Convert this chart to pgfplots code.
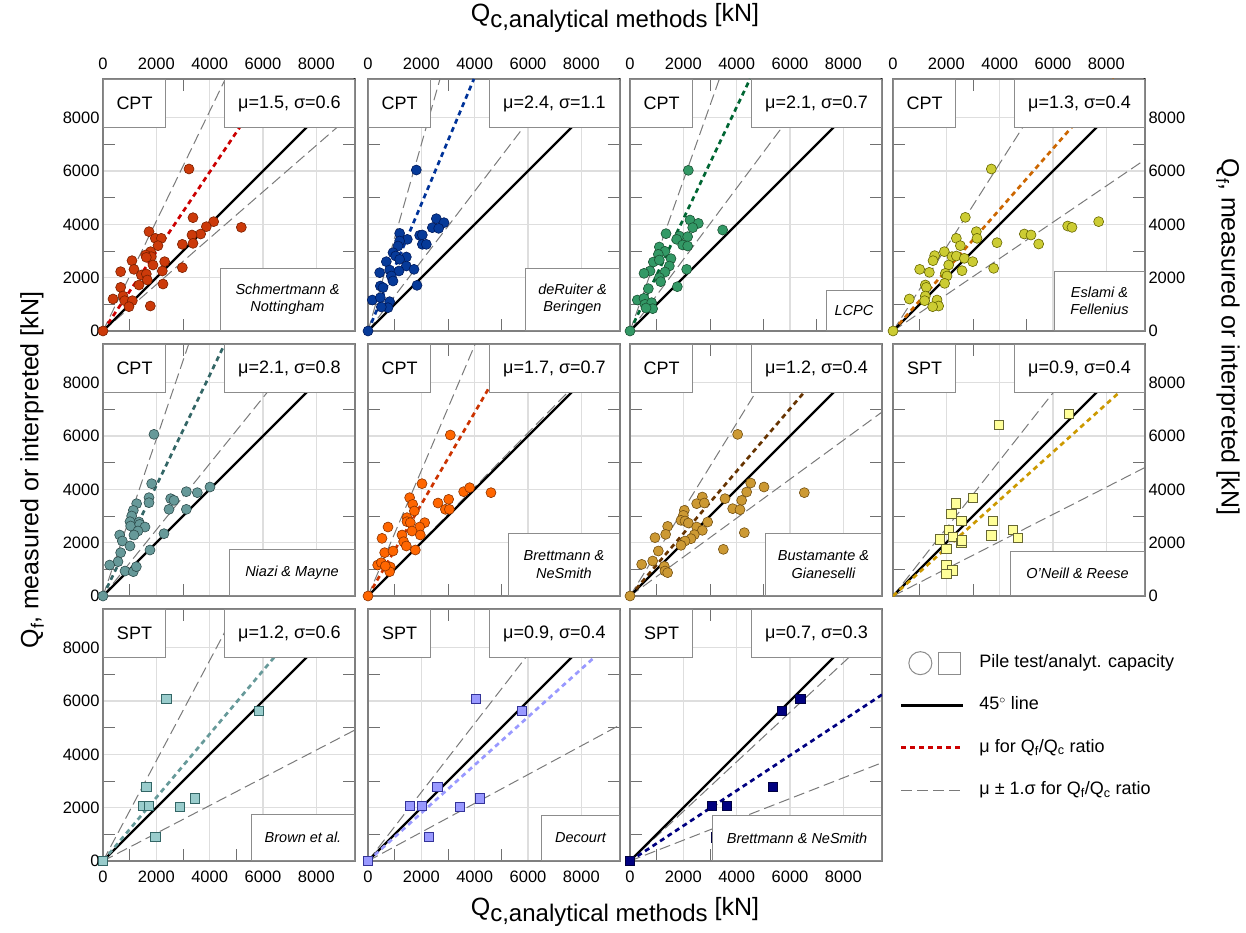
\documentclass[border=0pt]{standalone}
\usepackage{fontspec}
\setmainfont{Liberation Sans}
\usepackage{pgfplots}
\pgfplotsset{compat=1.18}

\definecolor{gridc}{HTML}{DEDEDE}
\definecolor{framec}{HTML}{7F7F7F}
\definecolor{tickc}{HTML}{707070}
\definecolor{boxc}{HTML}{8C8C8C}
\definecolor{dashc}{HTML}{7A7A7A}
\definecolor{f1}{HTML}{CC3A0A}\definecolor{e1}{HTML}{7A2000}\definecolor{m1}{HTML}{CC0000}
\definecolor{f2}{HTML}{063A99}\definecolor{e2}{HTML}{001A5C}\definecolor{m2}{HTML}{003399}
\definecolor{f3}{HTML}{339966}\definecolor{e3}{HTML}{1A5233}\definecolor{m3}{HTML}{006633}
\definecolor{f4}{HTML}{CCCC33}\definecolor{e4}{HTML}{666600}\definecolor{m4}{HTML}{CC6600}
\definecolor{f5}{HTML}{669999}\definecolor{e5}{HTML}{2E4D4D}\definecolor{m5}{HTML}{336666}
\definecolor{f6}{HTML}{FF6600}\definecolor{e6}{HTML}{8C3300}\definecolor{m6}{HTML}{CC3300}
\definecolor{f7}{HTML}{CC9933}\definecolor{e7}{HTML}{735012}\definecolor{m7}{HTML}{663300}
\definecolor{f8}{HTML}{FFFF99}\definecolor{e8}{HTML}{666633}\definecolor{m8}{HTML}{CC9900}
\definecolor{f9}{HTML}{99CCCC}\definecolor{e9}{HTML}{336666}\definecolor{m9}{HTML}{669999}
\definecolor{f10}{HTML}{9999FF}\definecolor{e10}{HTML}{333399}\definecolor{m10}{HTML}{9999FF}
\definecolor{f11}{HTML}{000080}\definecolor{e11}{HTML}{000040}\definecolor{m11}{HTML}{000080}

\newcommand\ticksize{\fontsize{16.5}{16.5}\selectfont}
\newcommand\boxsize{\fontsize{18}{18}\selectfont}
\newcommand\labsize{\fontsize{25}{25}\selectfont}

\tikzset{
 tbox/.style={draw=boxc, fill=white, line width=1pt, minimum height=48pt, inner sep=0pt, font=\boxsize},
 nbox/.style={draw=boxc, fill=white, line width=1pt, inner sep=0pt, align=center, font=\fontsize{14.5}{17.5}\selectfont\itshape},
}

\pgfplotsset{
 panel/.style={anchor=north west, scale only axis, width=252pt, height=252pt,
  xmin=0, xmax=9450, ymin=0, ymax=9450,
  xtick={0,2000,4000,6000,8000}, ytick={0,2000,4000,6000,8000},
  minor xtick={1000,3000,5000,7000,9000}, minor ytick={1000,3000,5000,7000,9000},
  xticklabels={}, yticklabels={},
  grid=major, major grid style={draw=gridc, line width=1.1pt},
  major tick length=0pt, minor tick length=12pt,
  minor tick style={draw=tickc, line width=0.9pt},
  axis line style={draw=framec, line width=1.2pt},
  xtick pos=both, ytick pos=both,
  tick label style={font=\ticksize},
 },
 toplab/.style={xticklabel pos=upper, xticklabels={0,2000,4000,6000,8000}, xticklabel shift=6pt},
 botlab/.style={xticklabel pos=lower, xticklabels={0,2000,4000,6000,8000}, xticklabel shift=6pt},
 leftlab/.style={yticklabel pos=lower, yticklabels={0,2000,4000,6000,8000}},
 rightlab/.style={yticklabel pos=upper, yticklabels={0,2000,4000,6000,8000}},
 dashl/.style={no marks, draw=dashc, line width=1pt, dash pattern=on 11pt off 5pt},
 blackl/.style={no marks, draw=black, line width=2.2pt},
 mul/.style={no marks, draw=#1, line width=2.7pt, dash pattern=on 5pt off 4pt},
 circ/.style 2 args={only marks, mark=*, mark size=5pt, mark options={fill=#1, draw=#2, line width=0.6pt, solid}},
 sq/.style 2 args={only marks, mark=square*, mark size=4.6pt, mark options={fill=#1, draw=#2, line width=0.6pt, solid}},
}

\begin{document}
\begin{tikzpicture}
\path[use as bounding box] (0pt,0pt) rectangle (1246pt,-933pt);

% ---------- Panel 1
\begin{axis}[panel, toplab, leftlab, name=p1, at={(103pt,-79pt)}]
\addplot[dashl] coordinates {(0,0) (9450,8222)};
\addplot[dashl] coordinates {(0,0) (4587,9450)};
\addplot[blackl] coordinates {(0,0) (9450,9450)};
\addplot[mul=m1] coordinates {(0,0) (6342,9450)};
\addplot[circ={f1}{e1}] coordinates {(0,0) (3225,6075) (3375,4250) (4150,4100) (3875,3912) (5187,3887) (3662,3637) (3337,3600) (1725,3725) (1962,3475) (2187,3475) (2062,3200) (2975,3250) (3375,3287) (1787,2975) (1600,2850) (1812,2787) (1625,2762) (1875,2475) (2312,2600) (1087,2637) (1162,2312) (2225,2250) (2975,2375) (1437,2100) (1625,2137) (1662,1912) (662,2225) (1350,1725) (2250,1762) (662,1637) (750,1312) (375,1200) (812,1137) (1100,1137) (975,912) (1775,937)};
\end{axis}
\node[tbox, anchor=north west, minimum width=62pt] at (p1.north west) {CPT};
\node[tbox, anchor=north east, minimum width=130pt] at (p1.north east) {μ=1.5, σ=0.6};
\node[nbox, anchor=south east, minimum width=134pt, minimum height=62pt] at (p1.south east) {Schmertmann \&\\Nottingham};

% ---------- Panel 2
\begin{axis}[panel, toplab, name=p2, at={(368pt,-79pt)}]
\addplot[dashl] coordinates {(0,0) (7214,9450)};
\addplot[dashl] coordinates {(0,0) (2700,9450)};
\addplot[blackl] coordinates {(0,0) (9450,9450)};
\addplot[mul=m2] coordinates {(0,0) (3971,9450)};
\addplot[circ={f2}{e2}] coordinates {(0,0) (1812,6037) (2562,4212) (2850,4062) (2412,3875) (2650,3850) (1937,3587) (2037,3600) (1187,3662) (1475,3437) (1187,3375) (1125,3187) (2037,3250) (2187,3250) (937,2937) (1037,2812) (1437,2775) (1187,2687) (687,2600) (1437,2437) (1725,2312) (812,2287) (1162,2250) (437,2187) (875,2062) (937,1875) (462,1687) (562,1625) (1837,1712) (162,1162) (462,1250) (812,1100) (750,875) (500,900)};
\end{axis}
\node[tbox, anchor=north west, minimum width=62pt] at (p2.north west) {CPT};
\node[tbox, anchor=north east, minimum width=130pt] at (p2.north east) {μ=2.4, σ=1.1};
\node[nbox, anchor=south east, minimum width=94pt, minimum height=62pt] at (p2.south east) {deRuiter \&\\Beringen};

% ---------- Panel 3
\begin{axis}[panel, toplab, name=p3, at={(630pt,-79pt)}]
\addplot[dashl] coordinates {(0,0) (7052,9450)};
\addplot[dashl] coordinates {(0,0) (3351,9450)};
\addplot[blackl] coordinates {(0,0) (9450,9450)};
\addplot[mul=m3] coordinates {(0,0) (4500,9450)};
\addplot[circ={f3}{e3}] coordinates {(0,0) (2187,6025) (2250,4162) (2562,4037) (2350,3875) (3475,3787) (1350,3650) (1850,3562) (1750,3437) (2162,3537) (1975,3225) (2162,3187) (1100,3150) (1312,2987) (1062,2875) (875,2587) (1537,2712) (1100,2662) (1475,2437) (750,2250) (525,2162) (1312,2212) (2125,2312) (1100,2000) (1150,1850) (687,1587) (1775,1662) (275,1162) (525,1225) (562,1000) (812,1062) (850,837) (600,862)};
\end{axis}
\node[tbox, anchor=north west, minimum width=62pt] at (p3.north west) {CPT};
\node[tbox, anchor=north east, minimum width=130pt] at (p3.north east) {μ=2.1, σ=0.7};
\node[nbox, anchor=south east, minimum width=55pt, minimum height=40pt] at (p3.south east) {LCPC};

% ---------- Panel 4
\begin{axis}[panel, toplab, rightlab, name=p4, at={(893pt,-79pt)}]
\addplot[dashl] coordinates {(0,0) (9450,6426)};
\addplot[dashl] coordinates {(0,0) (6019,9450)};
\addplot[blackl] coordinates {(0,0) (9450,9450)};
\addplot[mul=m4] coordinates {(0,0) (8289,9450)};
\addplot[circ={f4}{e4}] coordinates {(0,0) (3687,6075) (2712,4262) (7712,4100) (6550,3937) (6712,3887) (3125,3725) (3150,3475) (4925,3637) (5175,3600) (2375,3475) (5462,3262) (3900,3312) (2525,3200) (1925,2975) (1562,2825) (1500,2637) (2212,2787) (2375,2812) (2675,2725) (2987,2600) (2087,2475) (1000,2312) (1362,2200) (2587,2262) (1962,2162) (2025,2062) (3775,2350) (1937,1787) (1212,1725) (1250,1637) (1212,1312) (1187,1137) (612,1200) (1650,1162) (1712,937) (1487,912)};
\end{axis}
\node[tbox, anchor=north west, minimum width=62pt] at (p4.north west) {CPT};
\node[tbox, anchor=north east, minimum width=130pt] at (p4.north east) {μ=1.3, σ=0.4};
\node[nbox, anchor=south east, minimum width=90pt, minimum height=59pt] at (p4.south east) {Eslami \&\\Fellenius};

% ---------- Panel 5
\begin{axis}[panel, leftlab, name=p5, at={(103pt,-344pt)}]
\addplot[dashl] coordinates {(0,0) (7621,9450)};
\addplot[dashl] coordinates {(0,0) (3214,9450)};
\addplot[blackl] coordinates {(0,0) (9450,9450)};
\addplot[mul=m5] coordinates {(0,0) (4565,9450)};
\addplot[circ={f5}{e5}] coordinates {(0,0) (1912,6062) (1825,4212) (3125,3912) (3537,3875) (4012,4087) (1725,3687) (1725,3500) (2537,3650) (2662,3587) (2475,3250) (3125,3250) (1262,3462) (1137,3212) (1075,3000) (1012,2787) (1037,2625) (1350,2775) (1375,2687) (1575,2587) (1312,2437) (1162,2287) (2287,2337) (625,2287) (725,2062) (1012,1875) (662,1625) (1762,1725) (562,1287) (250,1162) (825,937) (1137,912) (1250,1100)};
\end{axis}
\node[tbox, anchor=north west, minimum width=62pt] at (p5.north west) {CPT};
\node[tbox, anchor=north east, minimum width=130pt] at (p5.north east) {μ=2.1, σ=0.8};
\node[nbox, anchor=south east, minimum width=125pt, minimum height=46pt] at (p5.south east) {Niazi \& Mayne};

% ---------- Panel 6
\begin{axis}[panel, name=p6, at={(368pt,-344pt)}]
\addplot[dashl] coordinates {(0,0) (9265,9450)};
\addplot[dashl] coordinates {(0,0) (4021,9450)};
\addplot[blackl] coordinates {(0,0) (9450,9450)};
\addplot[mul=m6] coordinates {(0,0) (5494,9450)};
\addplot[circ={f6}{e6}] coordinates {(0,0) (3087,6037) (2025,4212) (3587,3912) (3812,4062) (4612,3875) (1562,3687) (1675,3437) (1737,3187) (2625,3487) (3025,3625) (2900,3250) (3050,3250) (1462,2937) (1462,2787) (1587,2750) (2125,2750) (1937,2587) (1650,2437) (1962,2287) (750,2587) (1275,2287) (1337,2037) (1437,1875) (1775,1725) (525,2162) (625,1625) (937,1687) (362,1162) (500,1250) (837,1087) (812,912) (650,1125)};
\end{axis}
\node[tbox, anchor=north west, minimum width=62pt] at (p6.north west) {CPT};
\node[tbox, anchor=north east, minimum width=130pt] at (p6.north east) {μ=1.7, σ=0.7};
\node[nbox, anchor=south east, minimum width=111pt, minimum height=62pt] at (p6.south east) {Brettmann \&\\NeSmith};

% ---------- Panel 7
\begin{axis}[panel, name=p7, at={(630pt,-344pt)}]
\addplot[dashl] coordinates {(0,0) (9450,6899)};
\addplot[dashl] coordinates {(0,0) (5833,9450)};
\addplot[blackl] coordinates {(0,0) (9450,9450)};
\addplot[mul=m7] coordinates {(0,0) (8077,9450)};
\addplot[circ={f7}{e7}] coordinates {(0,0) (4037,6062) (4525,4237) (5025,4087) (6537,3875) (4375,3900) (3562,3650) (4187,3587) (2712,3712) (2500,3462) (2787,3487) (3850,3275) (4125,3237) (2037,3212) (2000,3025) (1912,2837) (2062,2812) (2187,2737) (2912,2775) (1412,2612) (2500,2587) (2712,2462) (1337,2312) (2412,2300) (2287,2150) (2062,2062) (1912,1900) (4287,2375) (937,2187) (1062,1687) (3500,1750) (437,1187) (850,1312) (1287,1112) (1312,937) (1412,875)};
\end{axis}
\node[tbox, anchor=north west, minimum width=62pt] at (p7.north west) {CPT};
\node[tbox, anchor=north east, minimum width=130pt] at (p7.north east) {μ=1.2, σ=0.4};
\node[nbox, anchor=south east, minimum width=116pt, minimum height=62pt] at (p7.south east) {Bustamante \&\\Gianeselli};

% ---------- Panel 8
\begin{axis}[panel, rightlab, name=p8, at={(893pt,-344pt)}]
\addplot[dashl] coordinates {(0,0) (9450,4820)};
\addplot[dashl] coordinates {(0,0) (7441,9450)};
\addplot[blackl] coordinates {(0,0) (9450,9450)};
\addplot[mul=m8] coordinates {(0,0) (9450,8505)};
\addplot[sq={f8}{e8}] coordinates {(6600,6837) (3975,6412) (3000,3687) (2350,3475) (2187,3087) (2562,2812) (3750,2812) (2100,2475) (2250,2212) (1750,2125) (2562,2000) (2587,2087) (3687,2275) (4500,2475) (4687,2187) (2000,1775) (2000,1150) (2225,962) (2000,837)};
\end{axis}
\node[tbox, anchor=north west, minimum width=62pt] at (p8.north west) {SPT};
\node[tbox, anchor=north east, minimum width=130pt] at (p8.north east) {μ=0.9, σ=0.4};
\node[nbox, anchor=south east, minimum width=134pt, minimum height=44pt] at (p8.south east) {O’Neill \& Reese};

% ---------- Panel 9
\begin{axis}[panel, botlab, leftlab, name=p9, at={(103pt,-609pt)}]
\addplot[dashl] coordinates {(0,0) (9450,4914)};
\addplot[dashl] coordinates {(0,0) (5027,9450)};
\addplot[blackl] coordinates {(0,0) (9450,9450)};
\addplot[mul=m9] coordinates {(0,0) (7941,9450)};
\addplot[sq={f9}{e9}] coordinates {(0,0) (2375,6075) (5837,5637) (1625,2787) (1500,2062) (1725,2062) (2875,2037) (3437,2350) (1962,912)};
\end{axis}
\node[tbox, anchor=north west, minimum width=62pt] at (p9.north west) {SPT};
\node[tbox, anchor=north east, minimum width=130pt] at (p9.north east) {μ=1.2, σ=0.6};
\node[nbox, anchor=south east, minimum width=103pt, minimum height=46pt] at (p9.south east) {Brown et al.};

% ---------- Panel 10
\begin{axis}[panel, botlab, name=p10, at={(368pt,-609pt)}]
\addplot[dashl] coordinates {(0,0) (9450,5103)};
\addplot[dashl] coordinates {(0,0) (7326,9450)};
\addplot[blackl] coordinates {(0,0) (9450,9450)};
\addplot[mul=m10] coordinates {(0,0) (9450,8505)};
\addplot[sq={f10}{e10}] coordinates {(0,0) (4037,6075) (5762,5625) (2600,2787) (1575,2062) (2012,2062) (3437,2037) (4200,2350) (2287,912)};
\end{axis}
\node[tbox, anchor=north west, minimum width=62pt] at (p10.north west) {SPT};
\node[tbox, anchor=north east, minimum width=130pt] at (p10.north east) {μ=0.9, σ=0.4};
\node[nbox, anchor=south east, minimum width=78pt, minimum height=45pt] at (p10.south east) {Decourt};

% ---------- Panel 11
\begin{axis}[panel, botlab, name=p11, at={(630pt,-609pt)}]
\addplot[dashl] coordinates {(0,0) (9450,3686)};
\addplot[dashl] coordinates {(0,0) (9450,8789)};
\addplot[blackl] coordinates {(0,0) (9450,9450)};
\addplot[mul=m11] coordinates {(0,0) (9450,6237)};
\addplot[sq={f11}{e11}] coordinates {(0,0) (6387,6075) (5700,5637) (5350,2787) (3062,2062) (3625,2062) (3225,887)};
\end{axis}
\node[tbox, anchor=north west, minimum width=62pt] at (p11.north west) {SPT};
\node[tbox, anchor=north east, minimum width=130pt] at (p11.north east) {μ=0.7, σ=0.3};
\node[nbox, anchor=south east, minimum width=169pt, minimum height=45pt] at (p11.south east) {Brettmann \& NeSmith};

% ---------- Legend
\begin{axis}[at={(893pt,-609pt)}, anchor=north west, scale only axis, width=252pt, height=252pt,
  hide axis, xmin=0, xmax=1, ymin=0, ymax=1,
  legend cell align=left,
  legend style={at={(0.0278,0.869)}, anchor=north west, draw=none, fill=none,
    inner sep=0pt, outer sep=0pt, row sep=0pt, column sep=15pt, font=\boxsize,
    nodes={inner sep=0pt, minimum height=42.3pt, text height=13pt, text depth=4pt, anchor=west}}]
\addlegendimage{legend image code/.code={\path[draw=none, fill=none] (0pt,-12pt) rectangle (62pt,12pt);
  \draw[boxc, line width=1pt, fill=white] (19pt,0pt) circle (11.5pt);
  \draw[boxc, line width=1pt, fill=white] (37pt,-11pt) rectangle (59pt,11pt);}}
\addlegendentry{Pile test/analyt. capacity}
\addlegendimage{legend image code/.code={\path[draw=none, fill=none] (0pt,-12pt) rectangle (62pt,12pt);
  \draw[black, line width=2.2pt] (0pt,0pt) -- (62pt,0pt);}}
\addlegendentry{45$^{\circ}$\ line}
\addlegendimage{legend image code/.code={\path[draw=none, fill=none] (0pt,-12pt) rectangle (62pt,12pt);
  \draw[m1, line width=2.7pt, dash pattern=on 5pt off 4pt] (0pt,0pt) -- (60pt,0pt);}}
\addlegendentry{μ for Q\textsubscript{f}/Q\textsubscript{c} ratio}
\addlegendimage{legend image code/.code={\path[draw=none, fill=none] (0pt,-12pt) rectangle (62pt,12pt);
  \draw[dashc, line width=1pt, dash pattern=on 11pt off 5pt] (0pt,0pt) -- (62pt,0pt);}}
\addlegendentry{μ ± 1.σ for Q\textsubscript{f}/Q\textsubscript{c} ratio}
\end{axis}

% ---------- Axis titles
\node[font=\labsize] at (615pt,-18pt) {Q\raisebox{-0.22em}{\fontsize{24}{24}\selectfont c,analytical methods} [kN]};
\node[font=\labsize] at (615pt,-912pt) {Q\raisebox{-0.22em}{\fontsize{24}{24}\selectfont c,analytical methods} [kN]};
\node[font=\labsize, rotate=90] at (32pt,-470pt) {Q\raisebox{-0.22em}{\fontsize{18}{18}\selectfont f}, measured or interpreted [kN]};
\node[font=\labsize, rotate=-90] at (1228pt,-337pt) {Q\raisebox{-0.22em}{\fontsize{18}{18}\selectfont f}, measured or interpreted [kN]};
\end{tikzpicture}
\end{document}
